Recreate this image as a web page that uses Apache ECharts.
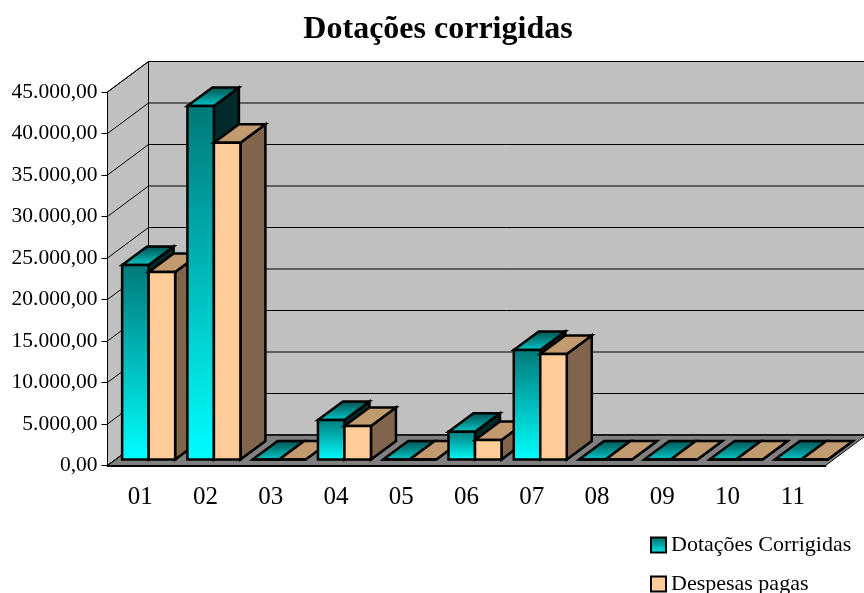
<!DOCTYPE html>
<html lang="pt">

<head>
    <meta charset="utf-8">
    <script src="https://cdn.jsdelivr.net/npm/echarts@6/dist/echarts.min.js"></script>
    <style>
        html, body { margin: 0; height: 100%; background: #fff; }
        #container { width: 864px; height: 593px; }
    </style>
</head>

<body>
    <div id="container"></div>
    <script>
        const categories = ['01', '02', '03', '04', '05', '06', '07', '08', '09', '10', '11'];
        const dotacoes = [23430, 42590, 0, 4760, 0, 3350, 13190, 0, 0, 0, 0];
        const despesas = [22590, 38170, 0, 4040, 0, 2350, 12710, 0, 0, 0, 0];
        const yTicks = [0, 5000, 10000, 15000, 20000, 25000, 30000, 35000, 40000, 45000];

        const FONT = '"Liberation Serif", "Times New Roman", serif';
        // 3D look: how far the back wall and the bars are shifted from the front plane
        const WALL_DX = 41, WALL_DY = -30.5;
        const BAR_DX = 8.5, BAR_DY = -6;
        const BAR_DEPTH_X = 25, BAR_DEPTH_Y = -18.5;
        const BAR_W = 26.5;

        function vgrad(top, bottom) {
            return new echarts.graphic.LinearGradient(0, 0, 0, 1, [
                { offset: 0, color: top },
                { offset: 1, color: bottom }
            ]);
        }

        const looks = [
            { front: ['#007878', '#00ffff'], top: ['#004c4c', '#00cccc'], side: '#012a2a' },
            { front: ['#ffcc99', '#ffcc99'], top: ['#c19a70', '#c19a70'], side: '#80654c' }
        ];

        function poly(points, fill, z2, lineWidth) {
            return {
                type: 'polygon',
                shape: { points: points },
                z2: z2,
                style: { fill: fill, stroke: '#000', lineWidth: lineWidth, lineJoin: 'miter' }
            };
        }

        function line(x1, y1, x2, y2, z2) {
            return {
                type: 'line',
                shape: { x1: x1, y1: y1, x2: x2, y2: y2 },
                z2: z2,
                style: { stroke: '#000', lineWidth: 1 }
            };
        }

        function renderWalls(params, api) {
            const sys = params.coordSys;
            const left = sys.x, right = sys.x + sys.width;
            const y0 = api.coord([0, 0])[1];
            const yMax = api.coord([0, yTicks[yTicks.length - 1]])[1];
            const children = [
                poly([[left + WALL_DX, yMax + WALL_DY], [right + WALL_DX, yMax + WALL_DY],
                    [right + WALL_DX, y0 + WALL_DY], [left + WALL_DX, y0 + WALL_DY]], '#c0c0c0', 0, 1),
                poly([[left, yMax], [left + WALL_DX, yMax + WALL_DY],
                    [left + WALL_DX, y0 + WALL_DY], [left, y0]], '#c0c0c0', 0, 1),
                poly([[left, y0], [left + WALL_DX, y0 + WALL_DY],
                    [right + WALL_DX, y0 + WALL_DY], [right, y0]], '#808080', 0, 1)
            ];
            yTicks.forEach(function (t) {
                const y = api.coord([0, t])[1];
                children.push(line(left, y, left + WALL_DX, y + WALL_DY, 1));
                children.push(line(left + WALL_DX, y + WALL_DY, right + WALL_DX, y + WALL_DY, 1));
            });
            return { type: 'group', children: children };
        }

        function barRenderer(seriesIndex) {
            return function (params, api) {
                const cat = api.value(0);
                const base = api.coord([cat, 0]);
                const top = api.coord([cat, api.value(1)]);
                const x0 = base[0] + BAR_DX - BAR_W * (1 - seriesIndex);
                const x1 = x0 + BAR_W;
                const yb = base[1] + BAR_DY;
                const yt = top[1] + BAR_DY;
                const dx = BAR_DEPTH_X, dy = BAR_DEPTH_Y;
                const look = looks[seriesIndex];
                const z = 10 + cat * 4 + seriesIndex * 2;
                return {
                    type: 'group',
                    children: [
                        poly([[x1, yt], [x1 + dx, yt + dy], [x1 + dx, yb + dy], [x1, yb]], look.side, z, 2.5),
                        poly([[x0, yt], [x0 + dx, yt + dy], [x1 + dx, yt + dy], [x1, yt]],
                            vgrad(look.top[0], look.top[1]), z + 1, 2.5),
                        poly([[x0, yt], [x1, yt], [x1, yb], [x0, yb]],
                            vgrad(look.front[0], look.front[1]), z + 1, 2.5)
                    ]
                };
            };
        }

        const chart = echarts.init(document.getElementById('container'), null, { renderer: 'canvas' });

        const option = {
            animation: false,
            backgroundColor: '#fff',
            title: {
                text: 'Dotações corrigidas',
                left: 433,
                top: 9,
                textAlign: 'center',
                textStyle: { fontFamily: FONT, fontSize: 32, fontWeight: 'bold', color: '#000' }
            },
            legend: {
                orient: 'vertical',
                left: 650,
                top: 534,
                height: 120,
                padding: 0,
                itemGap: 17,
                itemWidth: 15,
                itemHeight: 15,
                textStyle: { fontFamily: FONT, fontSize: 22, color: '#000' },
                data: [
                    { name: 'Dotações Corrigidas', icon: 'rect', itemStyle: { color: vgrad('#006666', '#00eeee'), borderColor: '#000', borderWidth: 2 } },
                    { name: 'Despesas pagas', icon: 'rect', itemStyle: { color: '#ffcc99', borderColor: '#000', borderWidth: 2 } }
                ]
            },
            grid: { left: 107.5, top: 92, width: 718, height: 373.5 },
            xAxis: {
                type: 'category',
                data: categories,
                axisLine: { lineStyle: { color: '#000', width: 2 } },
                axisTick: { length: 6, lineStyle: { color: '#000', width: 1 } },
                axisLabel: { fontFamily: FONT, fontSize: 25, color: '#000', margin: 19 }
            },
            yAxis: {
                type: 'value',
                min: 0,
                max: 45000,
                interval: 5000,
                splitLine: { show: false },
                axisLine: { show: true, lineStyle: { color: '#000', width: 1 } },
                axisTick: { show: true, length: 6, lineStyle: { color: '#000', width: 1 } },
                axisLabel: {
                    fontFamily: FONT,
                    fontSize: 21.5,
                    color: '#000',
                    margin: 10,
                    formatter: function (v) {
                        return v.toLocaleString('de-DE', { minimumFractionDigits: 2, maximumFractionDigits: 2 });
                    }
                }
            },
            series: [
                { type: 'custom', name: 'walls', renderItem: renderWalls, data: [[0, 0]], z: 1, silent: true },
                { type: 'custom', name: 'Dotações Corrigidas', renderItem: barRenderer(0), data: dotacoes.map((v, i) => [i, v]), z: 3 },
                { type: 'custom', name: 'Despesas pagas', renderItem: barRenderer(1), data: despesas.map((v, i) => [i, v]), z: 3 }
            ]
        };

        chart.setOption(option);
    </script>
</body>

</html>
